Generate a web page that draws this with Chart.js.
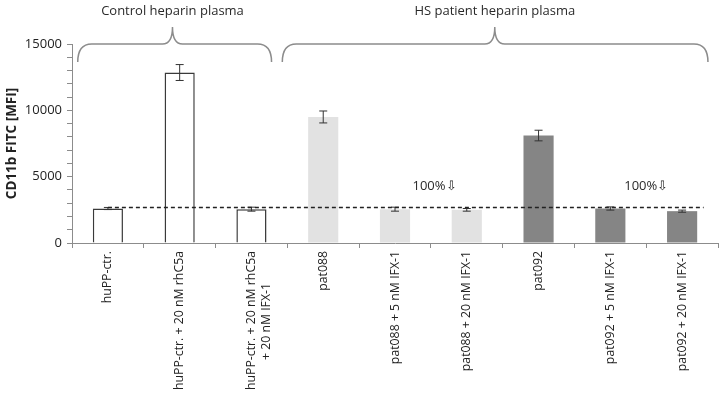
<!DOCTYPE html>
<html>
<head>
<meta charset="utf-8">
<script src="https://cdn.jsdelivr.net/npm/chart.js@4.4.1/dist/chart.umd.min.js"></script>
<style>
  html, body { margin: 0; padding: 0; background: #fff; }
  #wrap { width: 724px; height: 398px; }
</style>
</head>
<body>
<div id="wrap"><canvas id="chart"></canvas></div>
<script>
// values
const categories = [
    'huPP-ctr.',
    'huPP-ctr. + 20 nM rhC5a',
    ['huPP-ctr. + 20 nM rhC5a', '+ 20 nM IFX-1\u00a0\u00a0\u00a0\u00a0\u00a0\u00a0\u00a0\u00a0\u00a0\u00a0'],
    'pat088',
    'pat088 + 5 nM IFX-1',
    'pat088 + 20 nM IFX-1',
    'pat092',
    'pat092 + 5 nM IFX-1',
    'pat092 + 20 nM IFX-1'
];
const mfiMean = [2600, 12850, 2550, 9500, 2550, 2500, 8100, 2600, 2400];
const mfiErr = [80, 600, 150, 450, 150, 100, 400, 120, 80];
const groupOf = [0, 0, 0, 1, 1, 1, 2, 2, 2];
const groupTitles = ['Control heparin plasma', 'HS patient heparin plasma'];
const baselineMfi = 2750;
const noteTexts = ['100%\u21e9', '100%\u21e9'];
const yMax = 15000;

const fills = ['#ffffff', '#e2e2e2', '#858585'];
const borders = ['#3a3a3a', '#e2e2e2', '#858585'];

const extras = {
    id: 'extras',
    afterDatasetsDraw(chart) {
        const ctx = chart.ctx;
        const x = chart.scales.x;
        const y = chart.scales.y;
        ctx.save();

        // error bars
        ctx.strokeStyle = '#333';
        ctx.lineWidth = 1;
        mfiMean.forEach((v, i) => {
            const cx = x.getPixelForValue(i);
            const top = y.getPixelForValue(v + mfiErr[i]);
            const bot = y.getPixelForValue(v - mfiErr[i]);
            ctx.beginPath();
            ctx.moveTo(cx, top); ctx.lineTo(cx, bot);
            ctx.moveTo(cx - 4, top); ctx.lineTo(cx + 4, top);
            ctx.moveTo(cx - 4, bot); ctx.lineTo(cx + 4, bot);
            ctx.stroke();
        });

        // dashed reference line
        const yb = Math.round(y.getPixelForValue(baselineMfi)) + 0.5;
        ctx.setLineDash([4, 3]);
        ctx.lineWidth = 1.5;
        ctx.strokeStyle = '#222';
        ctx.beginPath();
        ctx.moveTo(x.getPixelForValue(0), yb);
        ctx.lineTo(x.getPixelForValue(8.3), yb);
        ctx.stroke();
        ctx.setLineDash([]);

        // 100% notes
        ctx.fillStyle = '#2a2a2a';
        ctx.font = '13px "Open Sans"';
        ctx.textAlign = 'center';
        ctx.textBaseline = 'middle';
        [4.55, 7.5].forEach((pos, k) => {
            ctx.fillText(noteTexts[k], x.getPixelForValue(pos), y.getPixelForValue(4300));
        });

        // group braces
        const braces = [[-0.42, 2.28, 0.9], [2.43, 8.36, 5.39]];
        ctx.strokeStyle = '#8c8c8c';
        ctx.lineWidth = 1.5;
        braces.forEach((b, k) => {
            const x0 = x.getPixelForValue(b[0]);
            const x1 = x.getPixelForValue(b[1]);
            const xm = x.getPixelForValue(b[2]);
            const base = 44, tip = 27, end = 62, r = 14;
            ctx.beginPath();
            ctx.moveTo(x0, end);
            ctx.quadraticCurveTo(x0, base, x0 + r, base);
            ctx.lineTo(xm - 10, base);
            ctx.quadraticCurveTo(xm, base, xm, tip);
            ctx.quadraticCurveTo(xm, base, xm + 10, base);
            ctx.lineTo(x1 - r, base);
            ctx.quadraticCurveTo(x1, base, x1, end);
            ctx.stroke();
            ctx.fillStyle = '#2a2a2a';
            ctx.font = '13px "Open Sans"';
            ctx.fillText(groupTitles[k], xm, 11);
        });
        ctx.restore();
    }
};

new Chart(document.getElementById('chart'), {
    type: 'bar',
    data: {
        labels: categories,
        datasets: [{
            data: mfiMean,
            backgroundColor: groupOf.map(g => fills[g]),
            borderColor: groupOf.map(g => borders[g]),
            borderWidth: groupOf.map(g => g === 0 ? 1.5 : 0),
            barPercentage: 0.42,
            categoryPercentage: 1
        }]
    },
    options: {
        responsive: true,
        maintainAspectRatio: false,
        animation: false,
        layout: { padding: { top: 44, right: 6, left: 0, bottom: 0 } },
        plugins: {
            legend: { display: false },
            tooltip: { enabled: false }
        },
        scales: {
            x: {
                afterFit: (s) => { s.height = 155; },
                border: { color: '#8c8c8c', width: 1 },
                grid: { drawOnChartArea: false, tickLength: 5, color: '#8c8c8c', offset: true },
                ticks: {
                    minRotation: 90,
                    maxRotation: 90,
                    autoSkip: false,
                    padding: 3,
                    color: '#222',
                    font: { family: '"Open Sans"', size: 12.3 }
                }
            },
            y: {
                min: 0,
                max: yMax,
                afterFit: (s) => { s.width = 72; },
                border: { color: '#8c8c8c', width: 1 },
                grid: { drawOnChartArea: false, tickLength: 5, color: '#8c8c8c' },
                ticks: {
                    stepSize: 1000,
                    autoSkip: false,
                    padding: 5,
                    color: '#222',
                    font: { family: '"Open Sans"', size: 13 },
                    callback: (v) => v % 5000 === 0 ? v : ''
                },
                title: {
                    display: true,
                    text: 'CD11b FITC [MFI]',
                    color: '#222',
                    font: { family: '"Open Sans"', size: 13.5, weight: 'bold' },
                    padding: { top: 4, bottom: 0 }
                }
            }
        }
    },
    plugins: [extras]
});
</script>
</body>
</html>
